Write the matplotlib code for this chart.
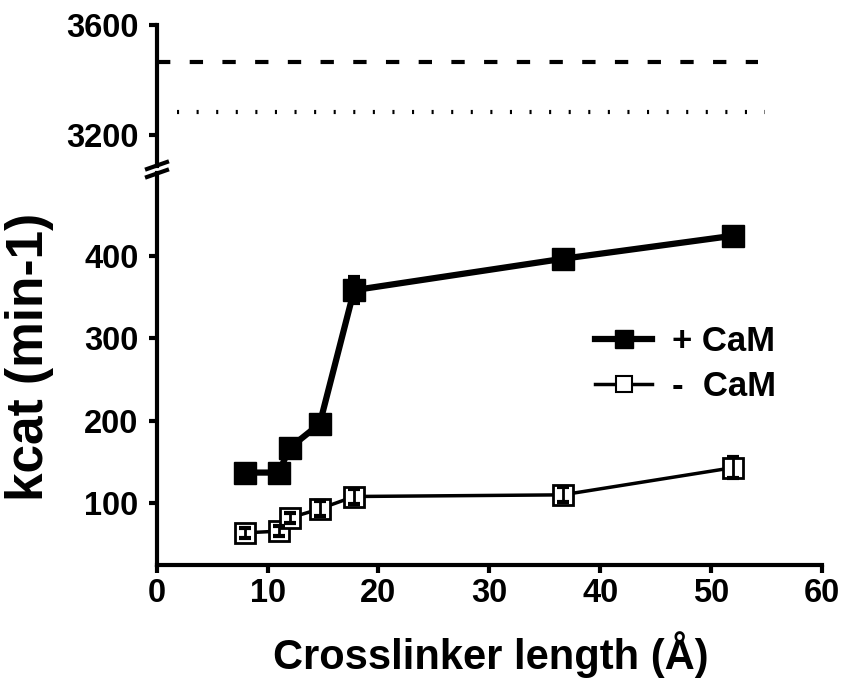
import matplotlib
matplotlib.use("Agg")
import matplotlib.pyplot as plt
from matplotlib.lines import Line2D

plt.rcParams['font.family'] = ['Liberation Sans', 'DejaVu Sans']
plt.rcParams['font.weight'] = 'bold'

# ---- data
length = [8, 11, 12, 14.7, 17.8, 36.6, 52]
kcat_plus = [137, 137, 167, 196, 358, 396, 424]
err_plus = [4, 4, 4, 4, 16, 4, 4]
kcat_minus = [64, 66, 82, 93, 108, 110, 143]
err_minus = [6, 6, 6, 9, 9, 9, 13]

dashed_level = 3467
dashed_span = [0, 54.2]
dotted_level = 3285
dotted_span = [1.8, 54.9]

x_ticks = [0, 10, 20, 30, 40, 50, 60]
low_ticks = [100, 200, 300, 400]
high_ticks = [3200, 3600]

W, H = 843, 685
fig = plt.figure(figsize=(W / 100, H / 100), dpi=100)

def px_box(left, top, right, bottom):
    return [left / W, 1 - bottom / H, (right - left) / W, (bottom - top) / H]

ax_lo = fig.add_axes(px_box(156.7, 173, 822, 565))
ax_hi = fig.add_axes(px_box(156.7, 25, 822, 165.5))

spine_w = 3
for ax in (ax_lo, ax_hi):
    ax.spines['top'].set_visible(False)
    ax.spines['right'].set_visible(False)
    ax.spines['left'].set_linewidth(spine_w)
    ax.spines['bottom'].set_linewidth(spine_w)
    ax.tick_params(width=spine_w, length=6, labelsize=23.5, direction='out')
    ax.set_xlim(0, 60)
    ax.patch.set_alpha(0)

ax_hi.spines['bottom'].set_visible(False)
ax_hi.set_xticks([])
ax_hi.set_ylim(3091, 3600)
ax_hi.set_yticks(high_ticks)
ax_hi.tick_params(axis='y', pad=7)

ax_lo.set_ylim(25, 500)
ax_lo.set_yticks(low_ticks)
ax_lo.set_xticks(x_ticks)
ax_lo.tick_params(axis='y', pad=7)
ax_lo.tick_params(axis='x', pad=3)

# ---- reference levels in the upper panel
ax_hi.hlines(dashed_level, *dashed_span, colors='black', lw=3,
             linestyles=[(0, (3.2, 4.65))])
ax_hi.hlines(dotted_level, *dotted_span, colors='black', lw=3,
             linestyles=[(0, (0.5, 4.2))])

# ---- + CaM
ax_lo.plot(length, kcat_plus, '-', color='black', lw=4.5, zorder=2)
ax_lo.plot(length, kcat_plus, 's', color='black', ms=15.5, mew=1, zorder=3)
ax_lo.errorbar(length, kcat_plus, yerr=err_plus, fmt='none', ecolor='black',
               elinewidth=2.5, capsize=4, capthick=3, zorder=4)

# ---- - CaM
ax_lo.plot(length, kcat_minus, '-', color='black', lw=2.5, zorder=2)
ax_lo.plot(length, kcat_minus, 's', mfc='white', mec='black', ms=14, mew=2,
           zorder=3)
ax_lo.errorbar(length, kcat_minus, yerr=err_minus, fmt='none', ecolor='black',
               elinewidth=2, capsize=4, capthick=3, zorder=4)

# ---- legend
handles = [
    Line2D([], [], color='black', lw=4.5, marker='s', ms=13.5, mfc='black'),
    Line2D([], [], color='black', lw=2.5, marker='s', ms=11.5, mfc='white', mew=1.5),
]
fig.legend(handles, ['+ CaM', '-  CaM'], loc='center left',
           bbox_to_anchor=(595 / W, 1 - 364 / H), frameon=False,
           fontsize=25, handlelength=1.65, handletextpad=0.58,
           labelspacing=0.35, borderpad=0, borderaxespad=0)

# ---- axis break marks
for y0 in (169, 177):
    fig.add_artist(Line2D([147 / W, 167 / W], [1 - y0 / H, 1 - (y0 - 7) / H],
                          color='black', lw=3, transform=fig.transFigure))

fig.text(491 / W, 1 - 655 / H, 'Crosslinker length (Å)', ha='center',
         va='center', fontsize=30)
fig.text(30 / W, 1 - 357 / H, 'kcat (min-1)', ha='center', va='center',
         rotation=90, fontsize=37)

fig.savefig('out.png', dpi=100)
